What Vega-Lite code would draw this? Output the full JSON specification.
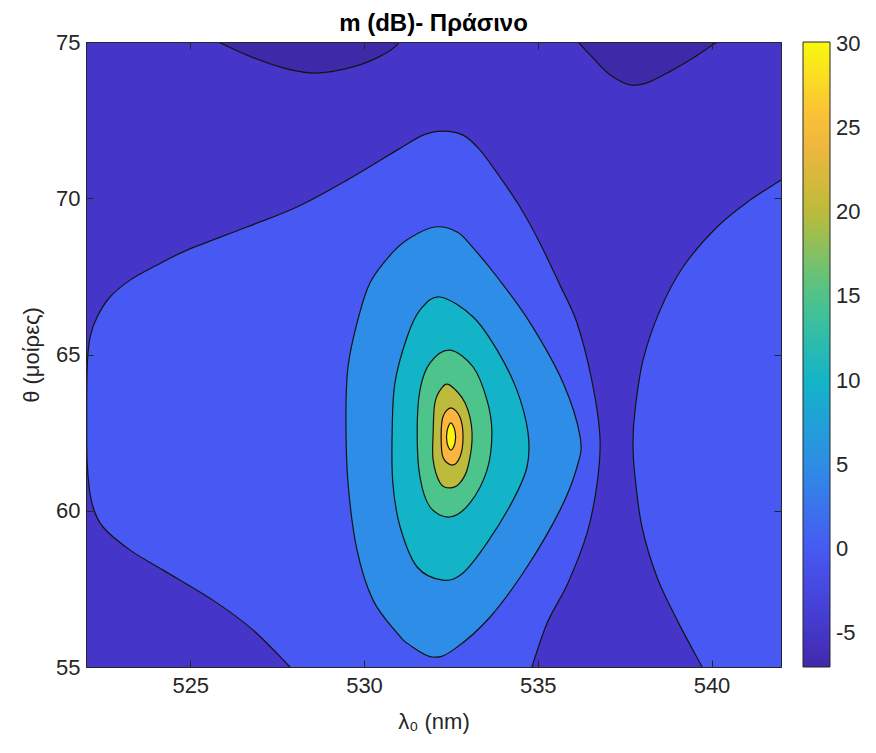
{
  "$schema": "https://vega.github.io/schema/vega-lite/v6.json",
  "width": 695,
  "height": 625,
  "autosize": {"type": "none"},
  "padding": {"left": 86, "top": 42, "right": 95, "bottom": 86},
  "background": "white",
  "title": {
    "text": "m (dB)- Πράσινο",
    "fontSize": 24,
    "fontWeight": "bold",
    "font": "Liberation Sans",
    "color": "#000000",
    "anchor": "middle",
    "frame": "group",
    "offset": -5
  },
  "datasets": {
    "contours": [
      {"region": "field", "level": -5, "i": 0, "lambda": 522, "theta": 55},
      {"region": "field", "level": -5, "i": 1, "lambda": 522, "theta": 75},
      {"region": "field", "level": -5, "i": 2, "lambda": 542, "theta": 75},
      {"region": "field", "level": -5, "i": 3, "lambda": 542, "theta": 55},

      {"region": "blobA", "level": -7, "i": 0, "lambda": 525.40, "theta": 75.20},
      {"region": "blobA", "level": -7, "i": 1, "lambda": 525.80, "theta": 75},
      {"region": "blobA", "level": -7, "i": 2, "lambda": 526.72, "theta": 74.54},
      {"region": "blobA", "level": -7, "i": 3, "lambda": 527.67, "theta": 74.17},
      {"region": "blobA", "level": -7, "i": 4, "lambda": 528.45, "theta": 74.01},
      {"region": "blobA", "level": -7, "i": 5, "lambda": 529.11, "theta": 74.06},
      {"region": "blobA", "level": -7, "i": 6, "lambda": 529.88, "theta": 74.27},
      {"region": "blobA", "level": -7, "i": 7, "lambda": 530.46, "theta": 74.54},
      {"region": "blobA", "level": -7, "i": 8, "lambda": 530.95, "theta": 74.91},
      {"region": "blobA", "level": -7, "i": 9, "lambda": 531.05, "theta": 75.25},

      {"region": "blobB", "level": -7, "i": 0, "lambda": 535.95, "theta": 75.25},
      {"region": "blobB", "level": -7, "i": 1, "lambda": 536.16, "theta": 75},
      {"region": "blobB", "level": -7, "i": 2, "lambda": 536.59, "theta": 74.49},
      {"region": "blobB", "level": -7, "i": 3, "lambda": 537.08, "theta": 73.95},
      {"region": "blobB", "level": -7, "i": 4, "lambda": 537.65, "theta": 73.63},
      {"region": "blobB", "level": -7, "i": 5, "lambda": 538.14, "theta": 73.69},
      {"region": "blobB", "level": -7, "i": 6, "lambda": 538.81, "theta": 74.06},
      {"region": "blobB", "level": -7, "i": 7, "lambda": 539.47, "theta": 74.49},
      {"region": "blobB", "level": -7, "i": 8, "lambda": 540.04, "theta": 74.91},
      {"region": "blobB", "level": -7, "i": 9, "lambda": 540.45, "theta": 75.20},

      {"region": "lobeL", "level": 0, "i": 0, "lambda": 528.20, "theta": 54.60},
      {"region": "lobeL", "level": 0, "i": 1, "lambda": 527.87, "theta": 55},
      {"region": "lobeL", "level": 0, "i": 2, "lambda": 526.81, "theta": 56.18},
      {"region": "lobeL", "level": 0, "i": 3, "lambda": 525.65, "theta": 57.14},
      {"region": "lobeL", "level": 0, "i": 4, "lambda": 524.22, "theta": 58.10},
      {"region": "lobeL", "level": 0, "i": 5, "lambda": 523.27, "theta": 58.74},
      {"region": "lobeL", "level": 0, "i": 6, "lambda": 522.49, "theta": 59.48},
      {"region": "lobeL", "level": 0, "i": 7, "lambda": 522.17, "theta": 60.25},
      {"region": "lobeL", "level": 0, "i": 8, "lambda": 522.04, "theta": 61.40},
      {"region": "lobeL", "level": 0, "i": 9, "lambda": 522.02, "theta": 63.00},
      {"region": "lobeL", "level": 0, "i": 10, "lambda": 522.04, "theta": 64.73},
      {"region": "lobeL", "level": 0, "i": 11, "lambda": 522.12, "theta": 65.56},
      {"region": "lobeL", "level": 0, "i": 12, "lambda": 522.32, "theta": 66.20},
      {"region": "lobeL", "level": 0, "i": 13, "lambda": 522.69, "theta": 66.84},
      {"region": "lobeL", "level": 0, "i": 14, "lambda": 523.27, "theta": 67.38},
      {"region": "lobeL", "level": 0, "i": 15, "lambda": 523.99, "theta": 67.83},
      {"region": "lobeL", "level": 0, "i": 16, "lambda": 524.91, "theta": 68.34},
      {"region": "lobeL", "level": 0, "i": 17, "lambda": 526.63, "theta": 69.08},
      {"region": "lobeL", "level": 0, "i": 18, "lambda": 528.07, "theta": 69.72},
      {"region": "lobeL", "level": 0, "i": 19, "lambda": 529.51, "theta": 70.58},
      {"region": "lobeL", "level": 0, "i": 20, "lambda": 530.95, "theta": 71.54},
      {"region": "lobeL", "level": 0, "i": 21, "lambda": 531.70, "theta": 72.02},
      {"region": "lobeL", "level": 0, "i": 22, "lambda": 532.27, "theta": 72.15},
      {"region": "lobeL", "level": 0, "i": 23, "lambda": 532.85, "theta": 72.02},
      {"region": "lobeL", "level": 0, "i": 24, "lambda": 533.34, "theta": 71.54},
      {"region": "lobeL", "level": 0, "i": 25, "lambda": 533.91, "theta": 70.68},
      {"region": "lobeL", "level": 0, "i": 26, "lambda": 534.49, "theta": 69.72},
      {"region": "lobeL", "level": 0, "i": 27, "lambda": 535.06, "theta": 68.57},
      {"region": "lobeL", "level": 0, "i": 28, "lambda": 535.64, "theta": 67.22},
      {"region": "lobeL", "level": 0, "i": 29, "lambda": 536.13, "theta": 66.01},
      {"region": "lobeL", "level": 0, "i": 30, "lambda": 536.55, "theta": 64.20},
      {"region": "lobeL", "level": 0, "i": 31, "lambda": 536.79, "theta": 62.36},
      {"region": "lobeL", "level": 0, "i": 32, "lambda": 536.71, "theta": 60.89},
      {"region": "lobeL", "level": 0, "i": 33, "lambda": 536.42, "theta": 59.29},
      {"region": "lobeL", "level": 0, "i": 34, "lambda": 535.87, "theta": 57.69},
      {"region": "lobeL", "level": 0, "i": 35, "lambda": 535.27, "theta": 56.41},
      {"region": "lobeL", "level": 0, "i": 36, "lambda": 534.83, "theta": 55},
      {"region": "lobeL", "level": 0, "i": 37, "lambda": 534.70, "theta": 54.60},

      {"region": "lobeR", "level": 0, "i": 0, "lambda": 542.40, "theta": 70.87},
      {"region": "lobeR", "level": 0, "i": 1, "lambda": 542.00, "theta": 70.58},
      {"region": "lobeR", "level": 0, "i": 2, "lambda": 541.11, "theta": 69.94},
      {"region": "lobeR", "level": 0, "i": 3, "lambda": 540.16, "theta": 69.08},
      {"region": "lobeR", "level": 0, "i": 4, "lambda": 539.18, "theta": 67.80},
      {"region": "lobeR", "level": 0, "i": 5, "lambda": 538.52, "theta": 66.42},
      {"region": "lobeR", "level": 0, "i": 6, "lambda": 538.03, "theta": 64.82},
      {"region": "lobeR", "level": 0, "i": 7, "lambda": 537.80, "theta": 63.22},
      {"region": "lobeR", "level": 0, "i": 8, "lambda": 537.74, "theta": 62.17},
      {"region": "lobeR", "level": 0, "i": 9, "lambda": 537.80, "theta": 61.08},
      {"region": "lobeR", "level": 0, "i": 10, "lambda": 538.00, "theta": 59.48},
      {"region": "lobeR", "level": 0, "i": 11, "lambda": 538.43, "theta": 57.88},
      {"region": "lobeR", "level": 0, "i": 12, "lambda": 539.01, "theta": 56.50},
      {"region": "lobeR", "level": 0, "i": 13, "lambda": 539.73, "theta": 55},
      {"region": "lobeR", "level": 0, "i": 14, "lambda": 540.10, "theta": 54.20},
      {"region": "lobeR", "level": 0, "i": 15, "lambda": 542.40, "theta": 54.20},

      {"region": "c5", "level": 5, "i": 0, "lambda": 529.48, "theta": 63.00},
      {"region": "c5", "level": 5, "i": 1, "lambda": 529.54, "theta": 64.60},
      {"region": "c5", "level": 5, "i": 2, "lambda": 529.80, "theta": 66.01},
      {"region": "c5", "level": 5, "i": 3, "lambda": 530.17, "theta": 67.29},
      {"region": "c5", "level": 5, "i": 4, "lambda": 530.81, "theta": 68.25},
      {"region": "c5", "level": 5, "i": 5, "lambda": 531.32, "theta": 68.73},
      {"region": "c5", "level": 5, "i": 6, "lambda": 532.04, "theta": 69.08},
      {"region": "c5", "level": 5, "i": 7, "lambda": 532.68, "theta": 68.92},
      {"region": "c5", "level": 5, "i": 8, "lambda": 533.14, "theta": 68.41},
      {"region": "c5", "level": 5, "i": 9, "lambda": 533.83, "theta": 67.48},
      {"region": "c5", "level": 5, "i": 10, "lambda": 534.78, "theta": 66.01},
      {"region": "c5", "level": 5, "i": 11, "lambda": 535.73, "theta": 64.09},
      {"region": "c5", "level": 5, "i": 12, "lambda": 536.22, "theta": 62.36},
      {"region": "c5", "level": 5, "i": 13, "lambda": 536.13, "theta": 61.40},
      {"region": "c5", "level": 5, "i": 14, "lambda": 535.64, "theta": 60.02},
      {"region": "c5", "level": 5, "i": 15, "lambda": 534.69, "theta": 58.20},
      {"region": "c5", "level": 5, "i": 16, "lambda": 533.63, "theta": 56.60},
      {"region": "c5", "level": 5, "i": 17, "lambda": 532.56, "theta": 55.54},
      {"region": "c5", "level": 5, "i": 18, "lambda": 531.96, "theta": 55.32},
      {"region": "c5", "level": 5, "i": 19, "lambda": 531.32, "theta": 55.70},
      {"region": "c5", "level": 5, "i": 20, "lambda": 530.95, "theta": 56.09},
      {"region": "c5", "level": 5, "i": 21, "lambda": 530.26, "theta": 57.14},
      {"region": "c5", "level": 5, "i": 22, "lambda": 529.80, "theta": 58.74},
      {"region": "c5", "level": 5, "i": 23, "lambda": 529.54, "theta": 60.89},

      {"region": "c10", "level": 10, "i": 0, "lambda": 532.19, "theta": 66.84},
      {"region": "c10", "level": 10, "i": 1, "lambda": 533.14, "theta": 66.20},
      {"region": "c10", "level": 10, "i": 2, "lambda": 533.83, "theta": 65.14},
      {"region": "c10", "level": 10, "i": 3, "lambda": 534.40, "theta": 63.86},
      {"region": "c10", "level": 10, "i": 4, "lambda": 534.72, "theta": 62.49},
      {"region": "c10", "level": 10, "i": 5, "lambda": 534.69, "theta": 61.40},
      {"region": "c10", "level": 10, "i": 6, "lambda": 534.29, "theta": 60.34},
      {"region": "c10", "level": 10, "i": 7, "lambda": 533.54, "theta": 58.97},
      {"region": "c10", "level": 10, "i": 8, "lambda": 532.85, "theta": 58.01},
      {"region": "c10", "level": 10, "i": 9, "lambda": 532.27, "theta": 57.78},
      {"region": "c10", "level": 10, "i": 10, "lambda": 531.53, "theta": 58.20},
      {"region": "c10", "level": 10, "i": 11, "lambda": 531.04, "theta": 59.48},
      {"region": "c10", "level": 10, "i": 12, "lambda": 530.83, "theta": 60.89},
      {"region": "c10", "level": 10, "i": 13, "lambda": 530.81, "theta": 62.49},
      {"region": "c10", "level": 10, "i": 14, "lambda": 530.89, "theta": 64.09},
      {"region": "c10", "level": 10, "i": 15, "lambda": 531.24, "theta": 65.56},
      {"region": "c10", "level": 10, "i": 16, "lambda": 531.61, "theta": 66.42},

      {"region": "c15", "level": 15, "i": 0, "lambda": 532.47, "theta": 65.14},
      {"region": "c15", "level": 15, "i": 1, "lambda": 533.14, "theta": 64.60},
      {"region": "c15", "level": 15, "i": 2, "lambda": 533.54, "theta": 63.54},
      {"region": "c15", "level": 15, "i": 3, "lambda": 533.68, "theta": 62.49},
      {"region": "c15", "level": 15, "i": 4, "lambda": 533.54, "theta": 61.30},
      {"region": "c15", "level": 15, "i": 5, "lambda": 533.05, "theta": 60.25},
      {"region": "c15", "level": 15, "i": 6, "lambda": 532.47, "theta": 59.80},
      {"region": "c15", "level": 15, "i": 7, "lambda": 531.90, "theta": 60.12},
      {"region": "c15", "level": 15, "i": 8, "lambda": 531.61, "theta": 61.08},
      {"region": "c15", "level": 15, "i": 9, "lambda": 531.53, "theta": 62.49},
      {"region": "c15", "level": 15, "i": 10, "lambda": 531.61, "theta": 63.86},
      {"region": "c15", "level": 15, "i": 11, "lambda": 531.90, "theta": 64.73},

      {"region": "c20", "level": 20, "i": 0, "lambda": 532.47, "theta": 64.02},
      {"region": "c20", "level": 20, "i": 1, "lambda": 532.91, "theta": 63.45},
      {"region": "c20", "level": 20, "i": 2, "lambda": 533.11, "theta": 62.49},
      {"region": "c20", "level": 20, "i": 3, "lambda": 532.99, "theta": 61.40},
      {"region": "c20", "level": 20, "i": 4, "lambda": 532.76, "theta": 60.89},
      {"region": "c20", "level": 20, "i": 5, "lambda": 532.47, "theta": 60.73},
      {"region": "c20", "level": 20, "i": 6, "lambda": 532.19, "theta": 60.89},
      {"region": "c20", "level": 20, "i": 7, "lambda": 531.99, "theta": 61.62},
      {"region": "c20", "level": 20, "i": 8, "lambda": 531.99, "theta": 62.49},
      {"region": "c20", "level": 20, "i": 9, "lambda": 532.04, "theta": 63.45},
      {"region": "c20", "level": 20, "i": 10, "lambda": 532.24, "theta": 63.93},

      {"region": "c25", "level": 25, "i": 0, "lambda": 532.50, "theta": 63.29},
      {"region": "c25", "level": 25, "i": 1, "lambda": 532.76, "theta": 63.00},
      {"region": "c25", "level": 25, "i": 2, "lambda": 532.85, "theta": 62.36},
      {"region": "c25", "level": 25, "i": 3, "lambda": 532.76, "theta": 61.72},
      {"region": "c25", "level": 25, "i": 4, "lambda": 532.53, "theta": 61.46},
      {"region": "c25", "level": 25, "i": 5, "lambda": 532.27, "theta": 61.72},
      {"region": "c25", "level": 25, "i": 6, "lambda": 532.22, "theta": 62.36},
      {"region": "c25", "level": 25, "i": 7, "lambda": 532.27, "theta": 63.00},

      {"region": "c30", "level": 30, "i": 0, "lambda": 532.50, "theta": 62.81},
      {"region": "c30", "level": 30, "i": 1, "lambda": 532.62, "theta": 62.55},
      {"region": "c30", "level": 30, "i": 2, "lambda": 532.62, "theta": 62.17},
      {"region": "c30", "level": 30, "i": 3, "lambda": 532.50, "theta": 61.94},
      {"region": "c30", "level": 30, "i": 4, "lambda": 532.39, "theta": 62.17},
      {"region": "c30", "level": 30, "i": 5, "lambda": 532.39, "theta": 62.55}
    ]
  },
  "data": {"name": "contours"},
  "encoding": {
    "x": {"field": "lambda", "type": "quantitative", "scale": {"domain": [522, 542], "nice": false, "zero": false}, "axis": null},
    "y": {"field": "theta", "type": "quantitative", "scale": {"domain": [55, 75], "nice": false, "zero": false}, "axis": null},
    "fill": {
      "field": "level",
      "type": "quantitative",
      "scale": {
        "domain": [-7, -5, 0, 5, 10, 15, 20, 25, 30.1],
        "range": ["#3e2aa8", "#4536c9", "#4759f2", "#2e8de6", "#13b4c8", "#4cc48b", "#bcbb3b", "#fcb63f", "#f9f80f"],
        "interpolate": "rgb"
      },
      "legend": {
        "type": "gradient",
        "title": null,
        "orient": "right",
        "direction": "vertical",
        "values": [-5, 0, 5, 10, 15, 20, 25, 30],
        "labelExpr": "replace(datum.label, '\u2212', '-')",
        "gradientLength": 625,
        "gradientThickness": 27,
        "gradientStrokeColor": "#262626",
        "gradientStrokeWidth": 1,
        "labelFontSize": 22,
        "labelFont": "Liberation Sans",
        "labelColor": "#262626",
        "labelOffset": 6,
        "labelOverlap": false,
        "offset": 21,
        "padding": 0
      }
    },
    "detail": {"field": "region"},
    "order": {"field": "i", "type": "quantitative"}
  },
  "layer": [
    {
      "transform": [{"filter": "datum.region == 'field'"}],
      "mark": {"type": "line", "interpolate": "linear", "strokeWidth": 0, "clip": true},
      "encoding": {
        "x": {
          "field": "lambda", "type": "quantitative",
          "axis": {"orient": "bottom", "values": [525, 530, 535, 540], "tickSize": -7, "labelPadding": 15, "title": "λ₀ (nm)", "titlePadding": 15, "zindex": 1}
        },
        "y": {
          "field": "theta", "type": "quantitative",
          "axis": {"orient": "left", "values": [55, 60, 65, 70, 75], "tickSize": -7, "labelPadding": 13, "title": "θ (μοίρες)", "titlePadding": 12, "zindex": 1}
        }
      }
    },
    {
      "transform": [{"filter": "datum.region == 'blobA' || datum.region == 'blobB' || datum.region == 'lobeL' || datum.region == 'lobeR'"}],
      "mark": {"type": "line", "interpolate": "cardinal", "stroke": "#141414", "strokeWidth": 1.2, "clip": true}
    },
    {
      "transform": [{"filter": "datum.region == 'c5'"}],
      "mark": {"type": "line", "interpolate": "cardinal-closed", "stroke": "#141414", "strokeWidth": 1.2, "clip": true}
    },
    {
      "transform": [{"filter": "datum.region == 'c10'"}],
      "mark": {"type": "line", "interpolate": "cardinal-closed", "stroke": "#141414", "strokeWidth": 1.2, "clip": true}
    },
    {
      "transform": [{"filter": "datum.region == 'c15'"}],
      "mark": {"type": "line", "interpolate": "cardinal-closed", "stroke": "#141414", "strokeWidth": 1.2, "clip": true}
    },
    {
      "transform": [{"filter": "datum.region == 'c20'"}],
      "mark": {"type": "line", "interpolate": "cardinal-closed", "stroke": "#141414", "strokeWidth": 1.2, "clip": true}
    },
    {
      "transform": [{"filter": "datum.region == 'c25'"}],
      "mark": {"type": "line", "interpolate": "cardinal-closed", "stroke": "#141414", "strokeWidth": 1.2, "clip": true}
    },
    {
      "transform": [{"filter": "datum.region == 'c30'"}],
      "mark": {"type": "line", "interpolate": "cardinal-closed", "stroke": "#141414", "strokeWidth": 1.2, "clip": true},
      "encoding": {
        "x": {
          "field": "lambda", "type": "quantitative",
          "axis": {"orient": "top", "values": [525, 530, 535, 540], "tickSize": -7, "labels": false, "title": null, "zindex": 1}
        },
        "y": {
          "field": "theta", "type": "quantitative",
          "axis": {"orient": "right", "values": [55, 60, 65, 70, 75], "tickSize": -7, "labels": false, "title": null, "zindex": 1}
        }
      }
    }
  ],
  "resolve": {"axis": {"x": "independent", "y": "independent"}},
  "config": {
    "font": "Liberation Sans",
    "view": {"stroke": null},
    "axis": {
      "grid": false,
      "labelFont": "Liberation Sans",
      "titleFont": "Liberation Sans",
      "labelFontSize": 22,
      "titleFontSize": 22,
      "titleFontWeight": "normal",
      "labelColor": "#262626",
      "titleColor": "#262626",
      "tickColor": "#262626",
      "domainColor": "#262626",
      "tickWidth": 1,
      "domainWidth": 1
    }
  }
}
